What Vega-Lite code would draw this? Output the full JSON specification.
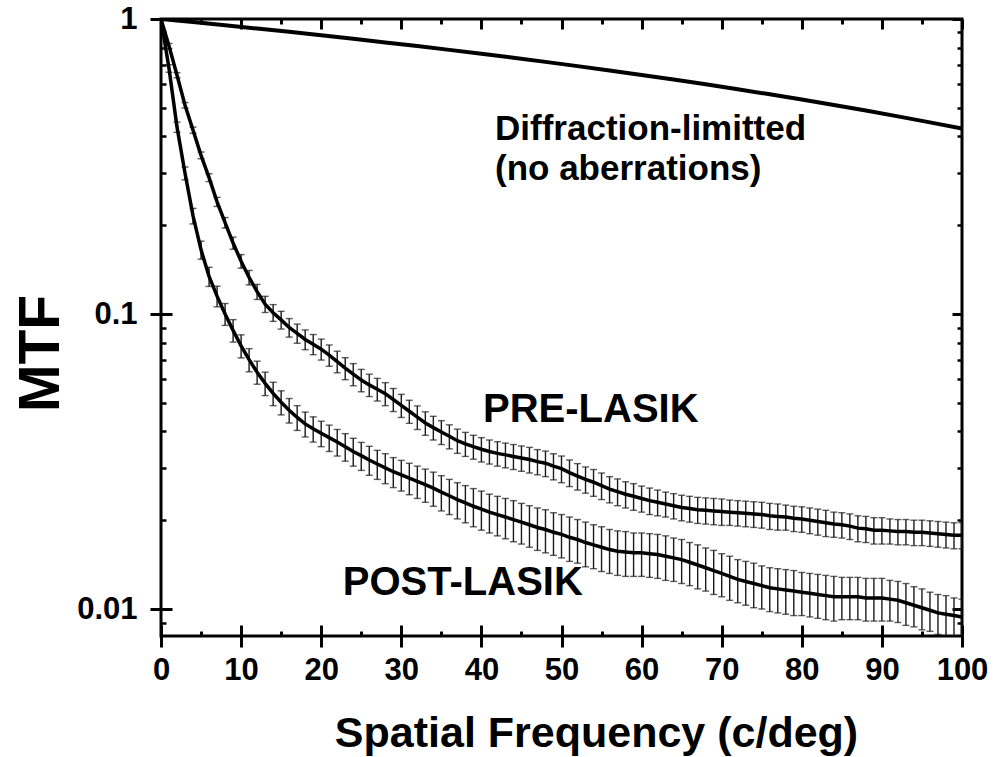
{
"$schema":"https://vega.github.io/schema/vega-lite/v6.json",
"width":801,"height":617,
"autosize":{"type":"none"},
"padding":{"left":161,"top":19,"right":32,"bottom":121},
"background":"white",
"config":{"view":{"stroke":"black","strokeWidth":3},"axis":{"domain":false,"grid":false,"tickColor":"black","labelColor":"black","titleColor":"black","labelFont":"Liberation Sans","titleFont":"Liberation Sans","labelFontWeight":"bold","titleFontWeight":"bold","labelFlush":false,"labelOverlap":false}},
"datasets":{
"pre":[
{"f":0,"mtf":1,"err":0},{"f":1,"mtf":0.81,"err":0.016},{"f":2,"mtf":0.645,"err":0.013},{"f":3,"mtf":0.51,"err":0.011},{"f":4,"mtf":0.42,"err":0.010},{"f":5,"mtf":0.345,"err":0.009},{"f":6,"mtf":0.29,"err":0.0088},{"f":7,"mtf":0.24,"err":0.0085},{"f":8,"mtf":0.204,"err":0.0083},{"f":9,"mtf":0.174,"err":0.0082},
{"f":10,"mtf":0.151,"err":0.008},{"f":11,"mtf":0.133,"err":0.0075},{"f":12,"mtf":0.119,"err":0.007},{"f":13,"mtf":0.108,"err":0.0068},{"f":14,"mtf":0.101,"err":0.0066},{"f":15,"mtf":0.0955,"err":0.0066},{"f":16,"mtf":0.09,"err":0.0065},{"f":17,"mtf":0.086,"err":0.0064},{"f":18,"mtf":0.082,"err":0.0063},{"f":19,"mtf":0.079,"err":0.0062},
{"f":20,"mtf":0.076,"err":0.0062},{"f":21,"mtf":0.0725,"err":0.006},{"f":22,"mtf":0.069,"err":0.0058},{"f":23,"mtf":0.0655,"err":0.0056},{"f":24,"mtf":0.0625,"err":0.0054},{"f":25,"mtf":0.0597,"err":0.0052},{"f":26,"mtf":0.0575,"err":0.005},{"f":27,"mtf":0.0556,"err":0.0049},{"f":28,"mtf":0.0537,"err":0.0048},{"f":29,"mtf":0.0513,"err":0.0046},
{"f":30,"mtf":0.049,"err":0.0044},{"f":31,"mtf":0.0468,"err":0.0042},{"f":32,"mtf":0.0447,"err":0.0041},{"f":33,"mtf":0.0427,"err":0.0039},{"f":34,"mtf":0.0412,"err":0.0038},{"f":35,"mtf":0.0398,"err":0.0037},{"f":36,"mtf":0.0385,"err":0.0036},{"f":37,"mtf":0.0372,"err":0.0035},{"f":38,"mtf":0.0363,"err":0.0034},{"f":39,"mtf":0.0355,"err":0.0033},
{"f":40,"mtf":0.0348,"err":0.0033},{"f":41,"mtf":0.0342,"err":0.0032},{"f":42,"mtf":0.0337,"err":0.0032},{"f":43,"mtf":0.0333,"err":0.0032},{"f":44,"mtf":0.0329,"err":0.0032},{"f":45,"mtf":0.0325,"err":0.0032},{"f":46,"mtf":0.0321,"err":0.0032},{"f":47,"mtf":0.0316,"err":0.0031},{"f":48,"mtf":0.0312,"err":0.0031},{"f":49,"mtf":0.0305,"err":0.0031},
{"f":50,"mtf":0.0299,"err":0.0031},{"f":51,"mtf":0.029,"err":0.003},{"f":52,"mtf":0.0282,"err":0.0029},{"f":53,"mtf":0.0275,"err":0.0028},{"f":54,"mtf":0.0269,"err":0.0028},{"f":55,"mtf":0.0262,"err":0.0027},{"f":56,"mtf":0.0255,"err":0.0026},{"f":57,"mtf":0.025,"err":0.0026},{"f":58,"mtf":0.0245,"err":0.0025},{"f":59,"mtf":0.0241,"err":0.0025},
{"f":60,"mtf":0.0237,"err":0.0024},{"f":61,"mtf":0.0233,"err":0.0024},{"f":62,"mtf":0.023,"err":0.0023},{"f":63,"mtf":0.0227,"err":0.0022},{"f":64,"mtf":0.0224,"err":0.0022},{"f":65,"mtf":0.0221,"err":0.0022},{"f":66,"mtf":0.0219,"err":0.0022},{"f":67,"mtf":0.0217,"err":0.0022},{"f":68,"mtf":0.0216,"err":0.0022},{"f":69,"mtf":0.0215,"err":0.0022},
{"f":70,"mtf":0.0214,"err":0.0022},{"f":71,"mtf":0.0213,"err":0.0021},{"f":72,"mtf":0.0212,"err":0.0021},{"f":73,"mtf":0.0211,"err":0.0021},{"f":74,"mtf":0.021,"err":0.0021},{"f":75,"mtf":0.0209,"err":0.0021},{"f":76,"mtf":0.0207,"err":0.0021},{"f":77,"mtf":0.0206,"err":0.0021},{"f":78,"mtf":0.0205,"err":0.002},{"f":79,"mtf":0.0203,"err":0.002},
{"f":80,"mtf":0.0202,"err":0.002},{"f":81,"mtf":0.02,"err":0.002},{"f":82,"mtf":0.0198,"err":0.002},{"f":83,"mtf":0.0196,"err":0.002},{"f":84,"mtf":0.0194,"err":0.0019},{"f":85,"mtf":0.0193,"err":0.0019},{"f":86,"mtf":0.0191,"err":0.0019},{"f":87,"mtf":0.0188,"err":0.0019},{"f":88,"mtf":0.0187,"err":0.0019},{"f":89,"mtf":0.0185,"err":0.0019},
{"f":90,"mtf":0.0185,"err":0.0019},{"f":91,"mtf":0.0184,"err":0.0018},{"f":92,"mtf":0.0183,"err":0.0018},{"f":93,"mtf":0.0183,"err":0.0018},{"f":94,"mtf":0.0182,"err":0.0018},{"f":95,"mtf":0.0182,"err":0.0018},{"f":96,"mtf":0.0181,"err":0.0018},{"f":97,"mtf":0.018,"err":0.0018},{"f":98,"mtf":0.0179,"err":0.0018},{"f":99,"mtf":0.0178,"err":0.0018},
{"f":100,"mtf":0.0178,"err":0.0018}
],
"post":[
{"f":0,"mtf":1,"err":0},{"f":1,"mtf":0.68,"err":0.02},{"f":2,"mtf":0.43,"err":0.017},{"f":3,"mtf":0.30,"err":0.015},{"f":4,"mtf":0.215,"err":0.013},{"f":5,"mtf":0.165,"err":0.0116},{"f":6,"mtf":0.134,"err":0.010},{"f":7,"mtf":0.115,"err":0.0092},{"f":8,"mtf":0.1,"err":0.0085},{"f":9,"mtf":0.088,"err":0.0077},
{"f":10,"mtf":0.078,"err":0.007},{"f":11,"mtf":0.07,"err":0.0063},{"f":12,"mtf":0.0635,"err":0.0057},{"f":13,"mtf":0.0582,"err":0.0053},{"f":14,"mtf":0.0538,"err":0.0049},{"f":15,"mtf":0.0502,"err":0.0047},{"f":16,"mtf":0.0472,"err":0.0045},{"f":17,"mtf":0.0446,"err":0.0043},{"f":18,"mtf":0.0424,"err":0.0041},{"f":19,"mtf":0.0408,"err":0.004},
{"f":20,"mtf":0.0394,"err":0.0039},{"f":21,"mtf":0.0381,"err":0.0039},{"f":22,"mtf":0.0368,"err":0.0038},{"f":23,"mtf":0.0355,"err":0.0038},{"f":24,"mtf":0.0342,"err":0.0037},{"f":25,"mtf":0.0331,"err":0.0036},{"f":26,"mtf":0.032,"err":0.0036},{"f":27,"mtf":0.031,"err":0.0035},{"f":28,"mtf":0.0301,"err":0.0035},{"f":29,"mtf":0.0292,"err":0.0034},
{"f":30,"mtf":0.0285,"err":0.0034},{"f":31,"mtf":0.0278,"err":0.0034},{"f":32,"mtf":0.0271,"err":0.0034},{"f":33,"mtf":0.0264,"err":0.0034},{"f":34,"mtf":0.0257,"err":0.0034},{"f":35,"mtf":0.0249,"err":0.0034},{"f":36,"mtf":0.0242,"err":0.0033},{"f":37,"mtf":0.0235,"err":0.0033},{"f":38,"mtf":0.0229,"err":0.0033},{"f":39,"mtf":0.0223,"err":0.0033},
{"f":40,"mtf":0.0218,"err":0.0033},{"f":41,"mtf":0.0213,"err":0.0032},{"f":42,"mtf":0.0209,"err":0.0032},{"f":43,"mtf":0.0205,"err":0.0032},{"f":44,"mtf":0.0201,"err":0.0032},{"f":45,"mtf":0.0197,"err":0.0031},{"f":46,"mtf":0.0193,"err":0.0031},{"f":47,"mtf":0.0189,"err":0.0031},{"f":48,"mtf":0.0186,"err":0.0031},{"f":49,"mtf":0.0182,"err":0.003},
{"f":50,"mtf":0.0179,"err":0.003},{"f":51,"mtf":0.0175,"err":0.003},{"f":52,"mtf":0.0172,"err":0.0029},{"f":53,"mtf":0.0168,"err":0.0029},{"f":54,"mtf":0.0165,"err":0.0028},{"f":55,"mtf":0.0162,"err":0.0028},{"f":56,"mtf":0.0159,"err":0.0027},{"f":57,"mtf":0.0157,"err":0.0027},{"f":58,"mtf":0.0156,"err":0.0027},{"f":59,"mtf":0.0155,"err":0.0026},
{"f":60,"mtf":0.0155,"err":0.0026},{"f":61,"mtf":0.0154,"err":0.0026},{"f":62,"mtf":0.0153,"err":0.0026},{"f":63,"mtf":0.0151,"err":0.0026},{"f":64,"mtf":0.0149,"err":0.0025},{"f":65,"mtf":0.0147,"err":0.0025},{"f":66,"mtf":0.0144,"err":0.0024},{"f":67,"mtf":0.0141,"err":0.0024},{"f":68,"mtf":0.0138,"err":0.0023},{"f":69,"mtf":0.0135,"err":0.0023},
{"f":70,"mtf":0.0132,"err":0.0022},{"f":71,"mtf":0.0129,"err":0.0022},{"f":72,"mtf":0.0126,"err":0.0021},{"f":73,"mtf":0.0124,"err":0.0021},{"f":74,"mtf":0.0122,"err":0.0021},{"f":75,"mtf":0.012,"err":0.002},{"f":76,"mtf":0.0118,"err":0.002},{"f":77,"mtf":0.0117,"err":0.002},{"f":78,"mtf":0.0116,"err":0.002},{"f":79,"mtf":0.0115,"err":0.002},
{"f":80,"mtf":0.0114,"err":0.0019},{"f":81,"mtf":0.0113,"err":0.0019},{"f":82,"mtf":0.0112,"err":0.0019},{"f":83,"mtf":0.0111,"err":0.0019},{"f":84,"mtf":0.011,"err":0.0019},{"f":85,"mtf":0.011,"err":0.0018},{"f":86,"mtf":0.011,"err":0.0018},{"f":87,"mtf":0.011,"err":0.0018},{"f":88,"mtf":0.0109,"err":0.0018},{"f":89,"mtf":0.0109,"err":0.0018},
{"f":90,"mtf":0.0109,"err":0.0018},{"f":91,"mtf":0.0108,"err":0.0017},{"f":92,"mtf":0.0107,"err":0.0017},{"f":93,"mtf":0.0105,"err":0.0017},{"f":94,"mtf":0.0103,"err":0.0016},{"f":95,"mtf":0.0101,"err":0.0016},{"f":96,"mtf":0.0099,"err":0.0015},{"f":97,"mtf":0.0097,"err":0.0015},{"f":98,"mtf":0.0096,"err":0.0015},{"f":99,"mtf":0.0095,"err":0.0014},
{"f":100,"mtf":0.0094,"err":0.0014}
],
"diff":[
{"f":0,"mtf":1},{"f":4,"mtf":0.9761},{"f":8,"mtf":0.9522},{"f":12,"mtf":0.9283},{"f":16,"mtf":0.9045},{"f":20,"mtf":0.8806},{"f":24,"mtf":0.8568},{"f":28,"mtf":0.8331},{"f":32,"mtf":0.8094},{"f":36,"mtf":0.7858},{"f":40,"mtf":0.7623},{"f":44,"mtf":0.7389},{"f":48,"mtf":0.7155},{"f":52,"mtf":0.6923},{"f":56,"mtf":0.6692},{"f":60,"mtf":0.6462},{"f":64,"mtf":0.6233},{"f":68,"mtf":0.6005},{"f":72,"mtf":0.578},{"f":76,"mtf":0.5555},{"f":80,"mtf":0.5333},{"f":84,"mtf":0.5112},{"f":88,"mtf":0.4893},{"f":92,"mtf":0.4677},{"f":96,"mtf":0.4462},{"f":100,"mtf":0.425}
],
"notes":[
{"f":41.7,"mtf":0.389,"label":"Diffraction-limitted"},
{"f":41.7,"mtf":0.2846,"label":"(no aberrations)"}
],
"groups":[
{"f":40.2,"mtf":0.043,"label":"PRE-LASIK"},
{"f":22.7,"mtf":0.01115,"label":"POST-LASIK"}
]
},
"resolve":{"axis":{"x":"independent","y":"independent"}},
"layer":[
{"data":{"name":"pre"},
 "mark":{"type":"errorbar","color":"#1a1a1a","thickness":1.4,"clip":true,"ticks":{"size":7}},
 "encoding":{
  "x":{"field":"f","type":"quantitative","scale":{"domain":[0,100],"nice":false},"axis":{"orient":"bottom","values":[0,10,20,30,40,50,60,70,80,90,100],"tickSize":-11,"tickWidth":3,"labels":false,"title":null}},
  "y":{"field":"mtf","type":"quantitative","scale":{"type":"log","domain":[0.0081,1],"nice":false},"axis":{"orient":"left","values":[0.01,0.1,1],"tickSize":-11,"tickWidth":3,"labels":false,"title":null}},
  "yError":{"field":"err"}}},
{"data":{"name":"post"},
 "mark":{"type":"errorbar","color":"#1a1a1a","thickness":1.4,"clip":true,"ticks":{"size":7}},
 "encoding":{
  "x":{"field":"f","type":"quantitative","scale":{"domain":[0,100],"nice":false},"axis":{"orient":"bottom","values":[5,15,25,35,45,55,65,75,85,95],"tickSize":-5,"tickWidth":3,"labels":false,"title":null}},
  "y":{"field":"mtf","type":"quantitative","scale":{"type":"log","domain":[0.0081,1],"nice":false},"axis":{"orient":"left","values":[0.009,0.02,0.03,0.04,0.05,0.06,0.07,0.08,0.09,0.2,0.3,0.4,0.5,0.6,0.7,0.8,0.9],"tickSize":-5,"tickWidth":2.5,"labels":false,"title":null}},
  "yError":{"field":"err"}}},
{"data":{"name":"pre"},
 "mark":{"type":"line","color":"black","strokeWidth":3.5,"clip":true},
 "encoding":{
  "x":{"field":"f","type":"quantitative","scale":{"domain":[0,100],"nice":false},"axis":{"orient":"bottom","values":[0,10,20,30,40,50,60,70,80,90,100],"tickSize":11,"tickWidth":3,"labelPadding":8,"labelFontSize":31,"title":"Spatial Frequency (c/deg)","titleFontSize":43,"titleX":435,"titleY":110,"titleBaseline":"alphabetic","titleAlign":"center"}},
  "y":{"field":"mtf","type":"quantitative","scale":{"type":"log","domain":[0.0081,1],"nice":false},"axis":{"orient":"left","values":[0.01,0.1,1],"format":"~g","tickSize":11,"tickWidth":3,"labelPadding":13,"labelFontSize":31,"title":"MTF","titleFontSize":57,"titleAngle":-90,"titleX":-103,"titleY":334,"titleBaseline":"alphabetic","titleAlign":"center"}}}},
{"data":{"name":"post"},
 "mark":{"type":"line","color":"black","strokeWidth":3.5,"clip":true},
 "encoding":{
  "x":{"field":"f","type":"quantitative","scale":{"domain":[0,100],"nice":false},"axis":{"orient":"top","values":[0,10,20,30,40,50,60,70,80,90,100],"tickSize":-10,"tickWidth":3,"labels":false,"title":null}},
  "y":{"field":"mtf","type":"quantitative","scale":{"type":"log","domain":[0.0081,1],"nice":false},"axis":{"orient":"right","values":[0.01,0.1,1],"tickSize":-10,"tickWidth":3,"labels":false,"title":null}}}},
{"data":{"name":"diff"},
 "mark":{"type":"line","color":"black","strokeWidth":4,"clip":true},
 "encoding":{
  "x":{"field":"f","type":"quantitative","scale":{"domain":[0,100],"nice":false},"axis":{"orient":"top","values":[5,15,25,35,45,55,65,75,85,95],"tickSize":-5,"tickWidth":3,"labels":false,"title":null}},
  "y":{"field":"mtf","type":"quantitative","scale":{"type":"log","domain":[0.0081,1],"nice":false},"axis":{"orient":"right","values":[0.009,0.02,0.03,0.04,0.05,0.06,0.07,0.08,0.09,0.2,0.3,0.4,0.5,0.6,0.7,0.8,0.9],"tickSize":-5,"tickWidth":2.5,"labels":false,"title":null}}}},
{"data":{"name":"notes"},
 "mark":{"type":"text","align":"left","baseline":"alphabetic","font":"Liberation Sans","fontWeight":"bold","fontSize":35,"color":"black"},
 "encoding":{
  "x":{"field":"f","type":"quantitative","axis":null},
  "y":{"field":"mtf","type":"quantitative","axis":null},
  "text":{"field":"label"}}},
{"data":{"name":"groups"},
 "mark":{"type":"text","align":"left","baseline":"alphabetic","font":"Liberation Sans","fontWeight":"bold","fontSize":40,"color":"black"},
 "encoding":{
  "x":{"field":"f","type":"quantitative","axis":null},
  "y":{"field":"mtf","type":"quantitative","axis":null},
  "text":{"field":"label"}}}
]
}
